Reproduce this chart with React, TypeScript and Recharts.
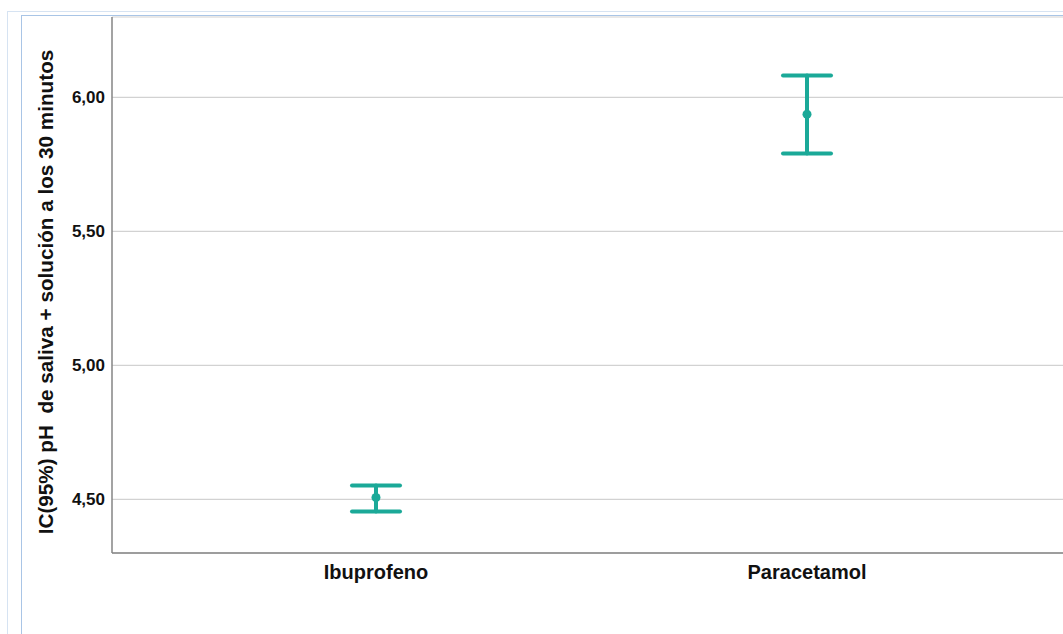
import {
  ComposedChart,
  Scatter,
  ErrorBar,
  XAxis,
  YAxis,
  CartesianGrid,
  Label,
} from 'recharts';

// groups and 95% CI of the pH at 30 min
const categories = ['Ibuprofeno', 'Paracetamol'];
const means = [4.507, 5.937];
const lowerCI = [4.455, 5.791];
const upperCI = [4.552, 6.082];
const yTicks = [4.5, 5.0, 5.5, 6.0];

const teal = '#1ba998';
const font = '"Liberation Sans", Arial, sans-serif';

const data = categories.map((name, i) => ({
  name,
  pos: i + 1,
  mean: means[i],
  err: [means[i] - lowerCI[i], upperCI[i] - means[i]],
}));

const fmt = (v: number) => v.toFixed(2).replace('.', ',');

const renderTitle = () => (
  <text
    x={45}
    y={292}
    transform="rotate(-90 45 292)"
    textAnchor="middle"
    dominantBaseline="central"
    fill="#111"
    fontSize={20.7}
    fontWeight="bold"
    fontFamily={font}
    style={{ whiteSpace: 'pre' }}
  >
    {'IC(95%) pH  de saliva + solución a los 30 minutos'}
  </text>
);

export default function App() {
  return (
    <div
      style={{
        position: 'absolute',
        left: 0,
        top: 0,
        width: 1063,
        height: 634,
        overflow: 'hidden',
        background: '#fff',
      }}
    >
      {/* frame lines of the output viewer */}
      <div style={{ position: 'absolute', left: 7, top: 11, right: -20, bottom: -20, borderLeft: '1px solid #d6e3f2', borderTop: '1px solid #d6e3f2' }} />
      <div style={{ position: 'absolute', left: 21, top: 15, right: -20, bottom: -20, borderLeft: '1px solid #a9c5e6', borderTop: '1px solid #a9c5e6' }} />
      <div style={{ position: 'absolute', left: 0, top: 0 }}>
        <ComposedChart
          width={1080}
          height={634}
          data={data}
          margin={{ top: 17, right: 9, left: 0, bottom: 41 }}
          style={{ fontFamily: font }}
        >
          <CartesianGrid vertical={false} stroke="#d2d2d2" strokeWidth={1.2} />
          <XAxis
            type="number"
            dataKey="pos"
            domain={[0.3875, 2.6125]}
            ticks={[1, 2]}
            tickFormatter={(v: number) => categories[v - 1]}
            height={40}
            tickLine={false}
            tickSize={0}
            tickMargin={12}
            stroke="#858585"
            strokeWidth={1.5}
            tick={{ fill: '#111', fontSize: 20, fontWeight: 'bold' }}
            allowDataOverflow
          />
          <YAxis
            type="number"
            domain={[4.3, 6.3]}
            ticks={yTicks}
            tickFormatter={fmt}
            width={112}
            tickLine={false}
            tickSize={0}
            tickMargin={7}
            stroke="#858585"
            strokeWidth={1.5}
            tick={{ fill: '#111', fontSize: 17, fontWeight: 'bold' }}
            allowDataOverflow
          >
            <Label content={renderTitle} />
          </YAxis>
          <Scatter
            dataKey="mean"
            isAnimationActive={false}
            shape={(p: any) => <circle cx={p.cx} cy={p.cy} r={4.5} fill={teal} />}
          >
            <ErrorBar
              dataKey="err"
              direction="y"
              width={24}
              stroke={teal}
              strokeWidth={4}
              strokeLinecap="round"
            />
          </Scatter>
        </ComposedChart>
      </div>
    </div>
  );
}
